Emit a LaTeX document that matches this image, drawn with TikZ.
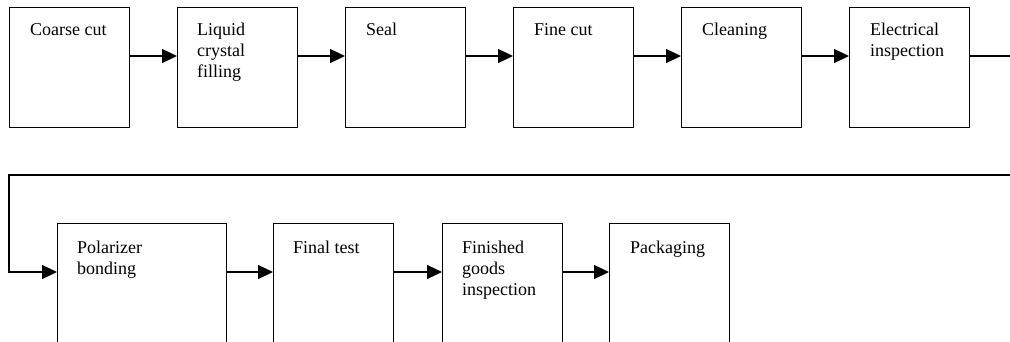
\documentclass[tikz,border=0pt]{standalone}
\usepackage{fontspec}
\setmainfont{Liberation Serif}
\usetikzlibrary{arrows.meta,calc}
\newcommand{\stagetext}[1]{\begin{tabular}[t]{@{}l@{}}#1\end{tabular}}
\tikzset{
  stage/.style={draw=black, line width=1.1pt, rectangle, inner sep=0pt,
    minimum height=120pt, minimum width=120pt, anchor=north west},
  wide/.style={minimum width=169pt},
  lbl/.style={anchor=base west, inner sep=0pt,
    font=\fontsize{18}{21}\selectfont},
  flow/.style={line width=1.1pt, -{Triangle[length=15pt,width=14pt]}},
}
\begin{document}
\begin{tikzpicture}[x=1pt,y=-1pt]
\clip (0,0) rectangle (1010,341);
% first row of process stages
\node[stage] (b1) at (9,7) {};
\node[stage] (b2) at (177,7) {};
\node[stage] (b3) at (345,7) {};
\node[stage] (b4) at (513,7) {};
\node[stage] (b5) at (681,7) {};
\node[stage] (b6) at (849,7) {};
% second row
\node[stage,wide] (b7) at (57,223) {};
\node[stage] (b8) at (273,223) {};
\node[stage] (b9) at (442,223) {};
\node[stage] (b10) at (609,223) {};
% stage names, first line on a common baseline
\node[lbl] (t1) at ($(b1.north west)+(21,28)$) {\stagetext{Coarse cut}};
\node[lbl] (t2) at ($(b2.north west)+(20,28)$) {\stagetext{Liquid\\crystal\\filling}};
\node[lbl] (t3) at ($(b3.north west)+(21,28)$) {\stagetext{Seal}};
\node[lbl] (t4) at ($(b4.north west)+(21,28)$) {\stagetext{Fine cut}};
\node[lbl] (t5) at ($(b5.north west)+(21,28)$) {\stagetext{Cleaning}};
\node[lbl] (t6) at ($(b6.north west)+(21,28)$) {\stagetext{Electrical\\inspection}};
\node[lbl] (t7) at ($(b7.north west)+(20,30)$) {\stagetext{Polarizer\\bonding}};
\node[lbl] (t8) at ($(b8.north west)+(20,30)$) {\stagetext{Final test}};
\node[lbl] (t9) at ($(b9.north west)+(20,30)$) {\stagetext{Finished\\goods\\inspection}};
\node[lbl] (t10) at ($(b10.north west)+(21,30)$) {\stagetext{Packaging}};
% connectors within the rows
\foreach \a/\b in {b1/b2,b2/b3,b3/b4,b4/b5,b5/b6,b7/b8,b8/b9,b9/b10}
  \draw[flow] ($(\a.north east)+(0,49)$) -- ($(\b.north west)+(0,49)$);
% wrap-around from the first row to the second
\coordinate (r1) at (1016,56);
\coordinate (r2) at (1016,175);
\coordinate (r3) at (9,175);
\draw[flow] ($(b6.north east)+(0,49)$) -- (r1) -- (r2) -- (r3)
  |- ($(b7.north west)+(0,49)$);
\end{tikzpicture}
\end{document}
